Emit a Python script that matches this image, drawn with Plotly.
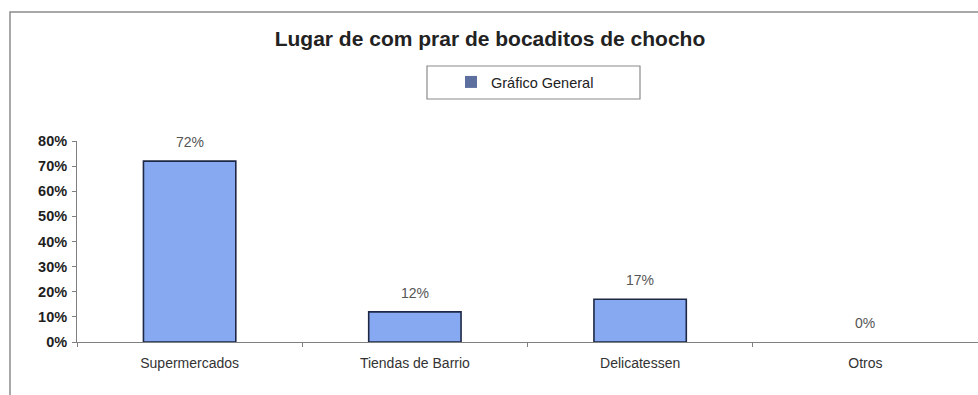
import plotly.graph_objects as go

# Data
categories = ["Supermercados", "Tiendas de Barrio", "Delicatessen", "Otros"]
shares = [0.72, 0.12, 0.17, 0.00]
series_name = "Gráfico General"
chart_title = "Lugar de com prar de bocaditos de chocho"

W, H = 978, 395
M_L, M_R, M_T, M_B = 77, 0, 141, 53
PW = W - M_L - M_R
PH = H - M_T - M_B


def px_x(px):
    return (px - M_L) / PW


def px_y(py):
    return 1 + (M_T - py) / PH


FONT = "Liberation Sans, Arial, sans-serif"
BAR_FILL = "#87A9F1"
BAR_EDGE = "#1E2846"
AXIS_GREY = "#808080"

fig = go.Figure()

fig.add_trace(go.Bar(
    x=categories,
    y=shares,
    marker=dict(
        color=BAR_FILL,
        line=dict(color=BAR_EDGE, width=[1.6 if v > 0 else 0 for v in shares]),
    ),
    showlegend=False,
    hoverinfo="skip",
))

# legend entry
fig.add_trace(go.Bar(
    x=[None], y=[None],
    name=series_name,
    marker=dict(color="#5C6F9E", line=dict(width=0)),
    showlegend=True,
))

# value labels above each bar
for cat, v in zip(categories, shares):
    fig.add_annotation(
        x=cat, y=v, xref="x", yref="y",
        text=f"{v:.0%}", showarrow=False,
        yanchor="middle", yshift=19,
        font=dict(family=FONT, size=14, color="#555555"),
    )

# outer chart frame
fig.add_shape(
    type="rect", xref="paper", yref="paper",
    x0=px_x(10), x1=px_x(990), y0=px_y(410), y1=px_y(12),
    line=dict(color="#8C8C8C", width=1.5), fillcolor="rgba(0,0,0,0)",
    layer="below",
)

# legend frame
fig.add_shape(
    type="rect", xref="paper", yref="paper",
    x0=px_x(427), x1=px_x(640), y0=px_y(99), y1=px_y(66),
    line=dict(color="#8A8A8A", width=1.2), fillcolor="white",
    layer="below",
)

fig.update_layout(
    width=W, height=H,
    margin=dict(l=M_L, r=M_R, t=M_T, b=M_B, pad=0),
    paper_bgcolor="white", plot_bgcolor="white",
    font=dict(family=FONT, color="#333333"),
    bargap=0.59,
    title=dict(
        text=f"<b>{chart_title}</b>",
        xref="container", yref="container",
        x=490 / W, y=1 - 39 / H, xanchor="center", yanchor="middle",
        font=dict(family=FONT, size=21, color="#222222"),
    ),
    legend=dict(
        x=px_x(451), y=px_y(82), xanchor="left", yanchor="middle",
        xref="paper", yref="paper",
        bgcolor="rgba(0,0,0,0)", borderwidth=0,
        itemwidth=30,
        font=dict(family=FONT, size=14.5, color="#222222"),
    ),
    xaxis=dict(
        type="category",
        showline=True, linecolor=AXIS_GREY, linewidth=1,
        ticks="outside", tickson="boundaries", ticklen=4, tickcolor=AXIS_GREY,
        tickfont=dict(family=FONT, size=14, color="#333333"),
        ticklabelstandoff=8,
        showgrid=False, zeroline=False, fixedrange=True,
    ),
    yaxis=dict(
        range=[0, 0.8], dtick=0.1, tickformat=".0%",
        showline=True, linecolor=AXIS_GREY, linewidth=1,
        ticks="outside", ticklen=4, tickcolor=AXIS_GREY,
        tickfont=dict(family=FONT, size=14.5, color="#1E1E1E", weight="bold"),
        ticklabelstandoff=2,
        showgrid=False, zeroline=False, fixedrange=True,
    ),
)

fig.write_html("out.html")
